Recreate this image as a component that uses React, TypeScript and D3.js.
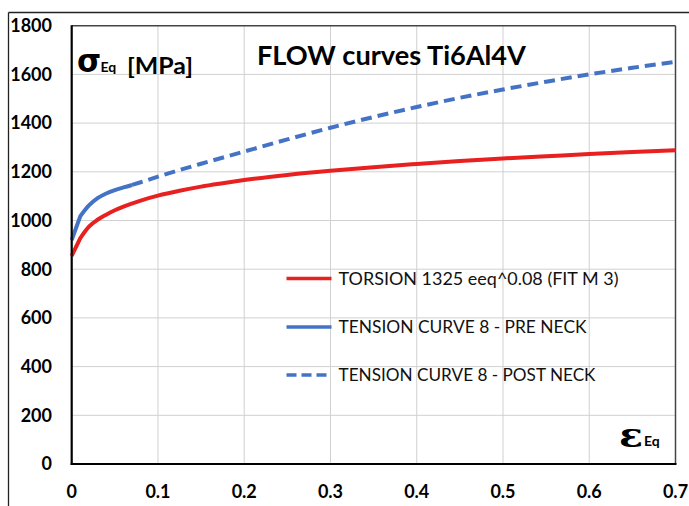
import React from "react";
import * as d3 from "d3";

const torsionEps = [0, 0.01, 0.02, 0.03, 0.04, 0.05, 0.06, 0.08, 0.1, 0.125, 0.15, 0.175, 0.2, 0.25, 0.3, 0.35, 0.4, 0.45, 0.5, 0.55, 0.6, 0.65, 0.7];
const torsionSig = [855, 928, 975, 1003, 1024, 1042, 1057, 1082, 1102, 1122, 1139, 1153, 1166, 1187, 1204, 1219, 1232, 1244, 1255, 1264, 1273, 1281, 1288];

const preEps = [0, 0.01, 0.02, 0.03, 0.04, 0.05, 0.06, 0.07];
const preSig = [920, 1018, 1062, 1092, 1111, 1125, 1136, 1146];

const postEps = [0.07, 0.08, 0.1, 0.15, 0.2, 0.25, 0.3, 0.35, 0.4, 0.45, 0.5, 0.55, 0.6, 0.65, 0.7];
const postSig = [1146, 1157, 1180, 1233, 1283, 1333, 1381, 1425, 1466, 1504, 1538, 1570, 1600, 1627, 1652];

const xTicks = [0, 0.1, 0.2, 0.3, 0.4, 0.5, 0.6, 0.7];
const xTickLabels = ["0", "0.1", "0.2", "0.3", "0.4", "0.5", "0.6", "0.7"];
const yTicks = [0, 200, 400, 600, 800, 1000, 1200, 1400, 1600, 1800];

const legendLabels = [
  "TORSION 1325 eeq^0.08 (FIT M 3)",
  "TENSION CURVE  8 - PRE NECK",
  "TENSION CURVE 8 - POST NECK",
];

const RED = "#E8201F";
const BLUE = "#4472C4";
const FONT = "Lato, 'Liberation Sans', Arial, sans-serif";

export default function App() {
  const x = d3.scaleLinear().domain([0, 0.7]).range([71.7, 675.5]);
  const y = d3.scaleLinear().domain([0, 1800]).range([464, 25.7]);

  const smooth = d3
    .line<[number, number]>()
    .x((d) => x(d[0]))
    .y((d) => y(d[1]))
    .curve(d3.curveMonotoneX);

  const straight = d3
    .line<[number, number]>()
    .x((d) => x(d[0]))
    .y((d) => y(d[1]));

  const tPts = torsionEps.map((e, i) => [e, torsionSig[i]]) as [number, number][];
  const pPts = preEps.map((e, i) => [e, preSig[i]]) as [number, number][];
  const torsion = (straight(tPts.slice(0, 2)) || "") + (smooth(tPts.slice(1)) || "").replace(/^M/, "L");
  const pre = (straight(pPts.slice(0, 2)) || "") + (smooth(pPts.slice(1)) || "").replace(/^M/, "L");
  const post = smooth(postEps.map((e, i) => [e, postSig[i]]) as [number, number][]) || "";

  const legendYs = [278.5, 327, 375];
  const legendStyles = [
    { stroke: RED, dash: undefined as string | undefined },
    { stroke: BLUE, dash: undefined as string | undefined },
    { stroke: BLUE, dash: "10,5" },
  ];
  const legendWidths = [280, 248, 257];

  return (
    <svg
      width={689}
      height={506}
      style={{ position: "absolute", left: 0, top: 0, background: "#fff" }}
    >
      <rect x={0} y={0} width={689} height={506} fill="#fff" />
      {/* outer frame */}
      <line x1={8.5} y1={12.5} x2={689} y2={12.5} stroke="#222" strokeWidth={1.3} />
      <line x1={8.5} y1={12.5} x2={8.5} y2={506} stroke="#222" strokeWidth={1.3} />

      {/* gridlines */}
      {xTicks.slice(1, -1).map((t) => (
        <line key={"gx" + t} x1={x(t)} x2={x(t)} y1={y(1800)} y2={y(0)} stroke="#d0d0d0" strokeWidth={1} />
      ))}
      {yTicks.slice(1, -1).map((t) => (
        <line key={"gy" + t} x1={x(0)} x2={x(0.7)} y1={y(t)} y2={y(t)} stroke="#d0d0d0" strokeWidth={1} />
      ))}

      {/* plot border top/right */}
      <line x1={x(0)} x2={x(0.7)} y1={y(1800)} y2={y(1800)} stroke="#444" strokeWidth={1.5} />
      <line x1={x(0.7)} x2={x(0.7)} y1={y(1800)} y2={y(0)} stroke="#444" strokeWidth={1.5} />

      {/* title */}
      <text x={257} y={65} fontFamily={FONT} fontWeight={700} fontSize={27} textLength={269} lengthAdjust="spacingAndGlyphs" fill="#000">
        FLOW curves Ti6Al4V
      </text>

      {/* y label */}
      <text x={77} y={72} fontFamily="'DejaVu Sans', sans-serif" fontWeight={700} fontSize={31} fill="#000">σ</text>
      <text x={100.5} y={72} fontFamily={FONT} fontWeight={700} fontSize={14} fill="#000">Eq</text>
      <text x={127} y={74} fontFamily={FONT} fontWeight={700} fontSize={23} textLength={66} lengthAdjust="spacingAndGlyphs" fill="#000">[MPa]</text>

      {/* x label */}
      <text x={619} y={447} fontFamily="'DejaVu Serif', serif" fontWeight={700} fontSize={34} textLength={24} lengthAdjust="spacingAndGlyphs" fill="#000">ε</text>
      <text x={644} y={446} fontFamily={FONT} fontWeight={700} fontSize={14} fill="#000">Eq</text>

      {/* legend */}
      {legendLabels.map((l, i) => (
        <g key={l}>
          <line
            x1={286.5}
            x2={331.5}
            y1={legendYs[i]}
            y2={legendYs[i]}
            stroke={legendStyles[i].stroke}
            strokeWidth={3.5}
            strokeDasharray={legendStyles[i].dash}
          />
          <text
            x={338.5}
            y={legendYs[i] + 6}
            fontFamily={FONT}
            fontSize={17}
            textLength={legendWidths[i]}
            lengthAdjust="spacingAndGlyphs"
            fill="#111"
          >
            {l}
          </text>
        </g>
      ))}

      {/* curves */}
      <path d={torsion} fill="none" stroke={RED} strokeWidth={4} strokeLinejoin="round" />
      <path d={post} fill="none" stroke={BLUE} strokeWidth={4} strokeDasharray="11,6" />
      <path d={pre} fill="none" stroke={BLUE} strokeWidth={4} strokeLinejoin="round" />

      {/* axes */}
      <line x1={x(0)} x2={x(0)} y1={y(1800) - 0.5} y2={y(0) + 1} stroke="#000" strokeWidth={2.2} />
      <line x1={x(0) - 1} x2={x(0.7) + 1} y1={y(0)} y2={y(0)} stroke="#000" strokeWidth={2.2} />

      {/* tick labels */}
      {yTicks.map((t) => (
        <text key={"yt" + t} x={52} y={y(t)} dy="0.35em" textAnchor="end" fontFamily={FONT} fontWeight={700} fontSize={18} fill="#000">
          {t}
        </text>
      ))}
      {xTicks.map((t, i) => (
        <text key={"xt" + t} x={x(t)} y={492} dy="0.35em" textAnchor="middle" fontFamily={FONT} fontWeight={700} fontSize={18} fill="#000">
          {xTickLabels[i]}
        </text>
      ))}
    </svg>
  );
}
